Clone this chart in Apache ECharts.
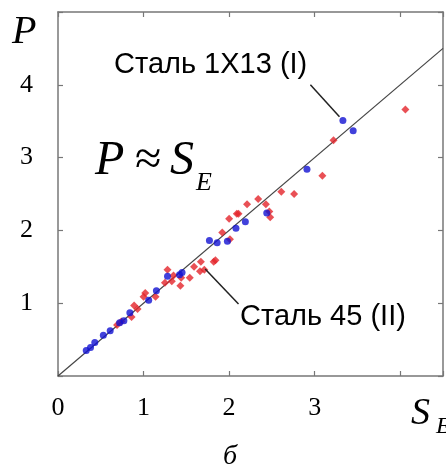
<!DOCTYPE html>
<html>
<head>
<meta charset="utf-8">
<script src="https://cdn.jsdelivr.net/npm/echarts@6/dist/echarts.min.js"></script>
<style>
html, body { margin: 0; padding: 0; background: #fff; }
#chart { width: 446px; height: 468px; }
</style>
</head>
<body>
<div id="chart"></div>
<script>
// Сталь 1Х13 (I) — [S_E, P]
var steel1x13 = [
	[0.33, 0.35], [0.38, 0.39], [0.43, 0.46], [0.53, 0.56], [0.61, 0.62],
	[0.72, 0.73], [0.77, 0.76], [0.84, 0.87], [1.06, 1.04], [1.15, 1.17],
	[1.28, 1.37], [1.42, 1.39], [1.45, 1.42], [1.77, 1.86], [1.86, 1.83],
	[1.98, 1.85], [2.08, 2.03], [2.19, 2.12], [2.44, 2.24], [2.91, 2.84],
	[3.33, 3.51], [3.45, 3.37]
];
// Сталь 45 (II)
var steel45 = [
	[0.69, 0.70], [0.74, 0.75], [0.86, 0.81], [0.89, 0.97], [0.93, 0.92],
	[1.00, 1.09], [1.02, 1.14], [1.14, 1.09], [1.25, 1.28], [1.28, 1.46],
	[1.33, 1.30], [1.35, 1.38], [1.43, 1.24], [1.44, 1.35], [1.54, 1.35],
	[1.59, 1.50], [1.66, 1.44], [1.71, 1.46], [1.67, 1.57], [1.82, 1.57],
	[1.84, 1.59], [1.92, 1.97], [2.00, 2.16], [2.01, 1.88], [2.09, 2.23],
	[2.11, 2.23], [2.21, 2.36], [2.34, 2.43], [2.43, 2.36], [2.47, 2.26],
	[2.48, 2.18], [2.61, 2.53], [2.76, 2.50], [3.09, 2.75], [3.22, 3.24],
	[4.06, 3.66]
];
// линия P = S_E
var diagLine = [[0, 0], [4.5, 4.5]];
// выноски к подписям
var leader1 = [[2.95, 4.00], [3.29, 3.56]];
var leader2 = [[1.72, 1.47], [2.11, 0.99]];

var xTickLabels = ['0', '1', '2', '3'];
var yTickLabels = ['1', '2', '3', '4'];

var axisColor = '#777';
var serif = '"Liberation Serif", "DejaVu Serif", serif';
var sans = '"Liberation Sans", Arial, sans-serif';

function axisBase(pos, labels, margin, extra) {
	var a = {
		type: 'value',
		position: pos,
		min: 0,
		interval: 1,
		splitLine: { show: false },
		axisLine: { show: true, onZero: false, lineStyle: { color: axisColor, width: 1.5 } },
		axisTick: { show: true, inside: true, length: 5, lineStyle: { color: axisColor, width: 1.2 } },
		axisLabel: { show: false }
	};
	if (labels) {
		a.axisLabel = {
			show: true,
			margin: margin,
			fontFamily: serif,
			fontSize: 26,
			color: '#000',
			formatter: function (v) {
				return labels.indexOf(String(v)) >= 0 ? String(v) : '';
			}
		};
	}
	for (var k in extra) a[k] = extra[k];
	return a;
}

var myChart = echarts.init(document.getElementById('chart'));

var option = {
	backgroundColor: '#fff',
	animation: false,
	grid: { left: 58, top: 12, width: 389, height: 364, containLabel: false },
	xAxis: [
		axisBase('bottom', xTickLabels, 19, { max: 4.5 }),
		axisBase('top', null, 0, { max: 4.5 })
	],
	yAxis: [
		axisBase('left', yTickLabels, 25, { max: 5 }),
		axisBase('right', null, 0, { max: 5 })
	],
	series: [
		{
			name: 'P = S_E',
			type: 'line',
			data: diagLine,
			symbol: 'none',
			silent: true,
			z: 1,
			lineStyle: { color: '#444', width: 1.2 }
		},
		{
			name: 'Сталь 45 (II)',
			type: 'scatter',
			data: steel45,
			symbol: 'diamond',
			symbolSize: 8,
			z: 3,
			itemStyle: { color: '#e3242b' },
			markLine: {
				silent: true,
				symbol: 'none',
				label: { show: false },
				lineStyle: { color: '#222', width: 1.5, type: 'solid' },
				data: [
					[{ coord: leader1[0] }, { coord: leader1[1] }],
					[{ coord: leader2[0] }, { coord: leader2[1] }]
				]
			}
		},
		{
			name: 'Сталь 1Х13 (I)',
			type: 'scatter',
			data: steel1x13,
			symbol: 'circle',
			symbolSize: 7,
			z: 4,
			itemStyle: { color: '#1212d2' }
		}
	],
	graphic: [
		{ type: 'text', left: 12, top: 12, style: { text: 'P', font: 'italic 40px ' + serif, fill: '#000' } },
		// P ≈ S_E
		{ type: 'text', left: 95, top: 137, style: { text: 'P', font: 'italic 48px ' + serif, fill: '#000' } },
		{ type: 'text', left: 135, top: 137, style: { text: '≈', font: '48px ' + serif, fill: '#000' } },
		{ type: 'text', left: 170, top: 137, style: { text: 'S', font: 'italic 48px ' + serif, fill: '#000' } },
		{ type: 'text', left: 196, top: 170, style: { text: 'E', font: 'italic 26px ' + serif, fill: '#000' } },
		{ type: 'text', left: 114, top: 50, style: { text: 'Сталь 1Х13 (I)', font: '29px ' + sans, fill: '#000' } },
		{ type: 'text', left: 240, top: 302, style: { text: 'Сталь 45 (II)', font: '29px ' + sans, fill: '#000' } },
		{ type: 'text', left: 411, top: 395, style: { text: 'S', font: 'italic 38px ' + serif, fill: '#000' } },
		{ type: 'text', left: 436, top: 415, style: { text: 'E', font: 'italic 24px ' + serif, fill: '#000' } },
		{ type: 'text', left: 223, top: 443, style: { text: 'б', font: 'italic 28px ' + serif, fill: '#000' } }
	]
};

myChart.setOption(option);

window.onresize = function () {
	myChart.resize();
};
</script>
</body>
</html>
